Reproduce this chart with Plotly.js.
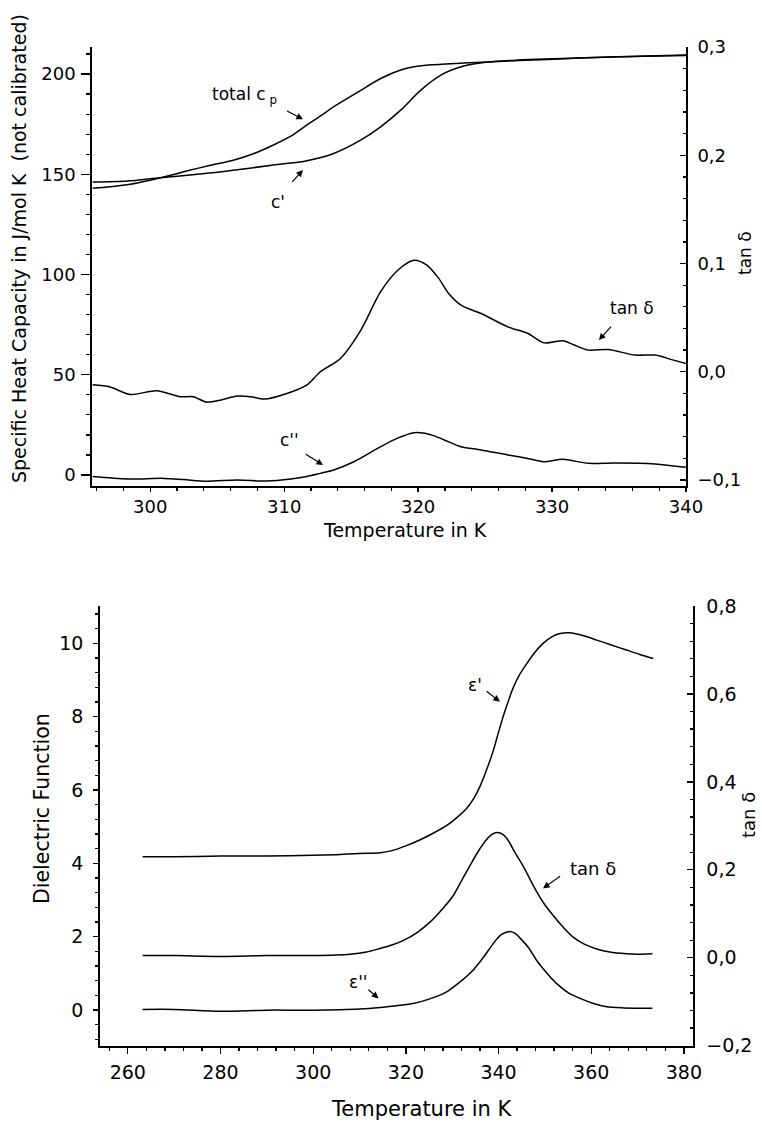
<!DOCTYPE html>
<html>
<head>
<meta charset="utf-8">
<script src="https://cdn.plot.ly/plotly-3.0.1.min.js"></script>
<style>html,body{margin:0;padding:0;background:#fff;}#chart{width:762px;height:1123px;}</style>
</head>
<body>
<div id="chart"></div>
<script>
// ---- Top panel: specific heat capacity (left axis) and tan delta (right axis)
const cpTotalT = [295.7, 297, 298.5, 300, 301, 302.7, 304.5, 306.2, 307.8, 309.2, 310.5, 311.7, 312.8, 313.7, 315.5, 317.2, 318.7, 319.7, 321, 323.4, 325.2, 327.5, 329.7, 332, 334.7, 337, 340];
const cpTotal  = [143, 143.8, 145, 147, 148.6, 151.6, 154.5, 157, 160.5, 164.6, 169, 174.6, 179.5, 183.7, 191, 197.8, 202, 203.6, 204.6, 205.5, 206, 206.8, 207.3, 208, 208.6, 209, 209.5];

const cPrimeT = [295.7, 298.3, 300.75, 303.7, 306.2, 309.2, 311.7, 313.7, 315.7, 317.2, 318.7, 320.2, 321.7, 323.4, 325.2, 327.5, 330, 333, 336, 340];
const cPrime  = [146.1, 146.6, 148.3, 150.1, 152, 154.6, 156.8, 160.4, 167, 173.7, 182, 192, 199.5, 204, 206, 207, 207.6, 208.2, 208.8, 209.3];

const cDPrimeT = [295.7, 298.3, 301, 302.5, 304.2, 306.5, 308.7, 310.5, 311.7, 312.7, 313.7, 315.2, 317.2, 318.5, 319.7, 320.5, 321.2, 322.3, 323.2, 324.7, 326.7, 328, 329.4, 330.8, 332.7, 334.7, 337.7, 340];
const cDPrime  = [-0.8, -2, -1.7, -2.3, -3.1, -2.5, -3, -2, -0.8, 0.8, 2.5, 6.6, 14.1, 18.5, 21.1, 20.8, 19.5, 16.5, 14.1, 12.5, 10, 8.5, 6.6, 7.8, 5.8, 6, 5.5, 3.8];

const tanTopT = [295.7, 297, 298.5, 300.5, 302.2, 303.2, 304.2, 305.3, 306.5, 307.5, 308.5, 310.2, 311.7, 312.7, 314.2, 315.7, 317.2, 318.5, 319.7, 320.6, 321.5, 322.3, 323.2, 324.7, 326.7, 328.2, 329.4, 330.8, 331.6, 332.7, 334.2, 336.2, 337.7, 339, 340];
const tanTop  = [-0.012, -0.014, -0.021, -0.0175, -0.023, -0.023, -0.028, -0.026, -0.0224, -0.023, -0.0252, -0.020, -0.012, 0.000, 0.0123, 0.038, 0.074, 0.094, 0.103, 0.099, 0.087, 0.072, 0.0615, 0.0538, 0.0415, 0.0354, 0.0267, 0.0286, 0.025, 0.020, 0.0206, 0.0154, 0.0154, 0.011, 0.0077];

// ---- Bottom panel: dielectric function (left axis) and tan delta (right axis)
const epsPrimeT = [263.2, 270, 280, 290, 300, 305, 310, 314.5, 317, 320, 323, 326, 329, 331, 333.1, 334.6, 336, 337.5, 338.9, 340, 341.1, 342.2, 343.2, 344.6, 346.1, 347.8, 349.6, 351.5, 353.3, 355.4, 358, 361.2, 364.5, 367.6, 370.5, 373.4];
const epsPrime  = [4.18, 4.18, 4.2, 4.2, 4.22, 4.24, 4.27, 4.29, 4.35, 4.48, 4.64, 4.83, 5.05, 5.25, 5.5, 5.76, 6.1, 6.58, 7.09, 7.58, 8.05, 8.46, 8.8, 9.16, 9.45, 9.75, 10.0, 10.18, 10.27, 10.29, 10.22, 10.09, 9.95, 9.82, 9.7, 9.59];

const epsDPrimeT = [263.2, 270, 280, 290, 300, 310, 314.4, 318, 321.6, 325, 328.8, 331.5, 334.5, 336.8, 338.9, 340.5, 342.1, 343.5, 344.6, 346.5, 348.2, 350.5, 352.5, 355, 357.6, 360.5, 363.3, 367, 373.2];
const epsDPrime  = [0.02, 0.02, -0.03, 0.0, 0.0, 0.03, 0.07, 0.12, 0.18, 0.3, 0.5, 0.75, 1.09, 1.45, 1.82, 2.05, 2.14, 2.1, 1.97, 1.7, 1.36, 1.0, 0.73, 0.48, 0.32, 0.18, 0.09, 0.06, 0.05];

const tanBotT = [263.2, 270, 280, 290, 300, 308, 311.5, 314.4, 317, 319.4, 322.5, 325.2, 328, 330.2, 332, 333.8, 335.5, 337.2, 338.5, 339.7, 341, 342.2, 343.5, 345.5, 347.5, 349.5, 351.8, 354, 356.1, 358.5, 361.2, 364, 367.6, 370, 373.2];
const tanBot  = [0.005, 0.005, 0.003, 0.005, 0.005, 0.008, 0.013, 0.021, 0.029, 0.039, 0.058, 0.081, 0.112, 0.141, 0.175, 0.209, 0.24, 0.266, 0.28, 0.285, 0.28, 0.265, 0.24, 0.205, 0.164, 0.128, 0.096, 0.069, 0.047, 0.031, 0.020, 0.013, 0.009, 0.008, 0.009];

// ---- Text
const xTitle = 'Temperature in K';
const yTopTitle = 'Specific Heat Capacity in J/mol K\u00a0 (not calibrated)';
const yBotTitle = 'Dielectric Function';
const tanTitle = 'tan \u03b4';

const FONT = 'DejaVu Sans, Liberation Sans, Arial, sans-serif';
const line = {color: '#000', width: 1.5, shape: 'spline', smoothing: 0.8};

const traces = [
  {x: cpTotalT, y: cpTotal, xaxis: 'x', yaxis: 'y', name: 'total cp'},
  {x: cPrimeT, y: cPrime, xaxis: 'x', yaxis: 'y', name: "c'"},
  {x: cDPrimeT, y: cDPrime, xaxis: 'x', yaxis: 'y', name: "c''"},
  {x: tanTopT, y: tanTop, xaxis: 'x', yaxis: 'y2', name: 'tan δ'},
  {x: epsPrimeT, y: epsPrime, xaxis: 'x3', yaxis: 'y3', name: "ε'"},
  {x: epsDPrimeT, y: epsDPrime, xaxis: 'x3', yaxis: 'y3', name: "ε''"},
  {x: tanBotT, y: tanBot, xaxis: 'x3', yaxis: 'y4', name: 'tan δ'}
].map(t => Object.assign({type: 'scatter', mode: 'lines', line: line, hoverinfo: 'skip'}, t));

const W = 762, H = 1123;
const px = v => v / W, py = v => 1 - v / H;

const axBase = {
  showline: true, linecolor: '#000', linewidth: 1.8, showgrid: false, zeroline: false,
  tickcolor: '#000', tickwidth: 1.3, color: '#000', fixedrange: true
};

const topDomX = [px(92), px(686)], topDomY = [py(486), py(47)];
const botDomX = [px(100), px(692.7)], botDomY = [py(1045.7), py(606)];
const topXRange = [295.65, 340], botXRange = [254, 381.9];

const layout = {
  width: W, height: H,
  margin: {l: 0, r: 0, t: 0, b: 0},
  paper_bgcolor: '#fff', plot_bgcolor: '#fff',
  showlegend: false,
  separators: ',.',
  font: {family: FONT, color: '#000', size: 18},
  xaxis: Object.assign({}, axBase, {domain: topDomX, anchor: 'y', range: topXRange, dtick: 10, tick0: 300,
    ticks: 'outside', ticklen: 4, tickfont: {size: 18}, ticklabelstandoff: 0,
    minor: {dtick: 2, tick0: 300, ticklen: 3, ticks: 'outside', tickcolor: '#000'}}),
  xaxis2: Object.assign({}, axBase, {domain: topDomX, anchor: 'y', overlaying: 'x', side: 'top', range: topXRange,
    dtick: 10, tick0: 300, ticks: 'inside', ticklen: 8, showticklabels: false,
    minor: {dtick: 2, tick0: 300, ticklen: 4, ticks: 'inside', tickcolor: '#000'}}),
  yaxis: Object.assign({}, axBase, {domain: topDomY, anchor: 'x', range: [-5.5, 213.5], dtick: 50, tick0: 0,
    ticks: 'outside', ticklen: 9, tickfont: {size: 18}, ticklabelstandoff: 2,
    minor: {dtick: 10, tick0: 0, ticklen: 4, ticks: 'outside', tickcolor: '#000'}}),
  yaxis2: Object.assign({}, axBase, {domain: topDomY, anchor: 'x', overlaying: 'y', side: 'right', range: [-0.1055, 0.3],
    dtick: 0.1, tick0: 0, tickformat: '.1f', ticks: 'inside', ticklen: 6, tickfont: {size: 18}, ticklabelstandoff: 6,
    minor: {dtick: 0.02, tick0: 0, ticklen: 3, ticks: 'inside', tickcolor: '#000'}}),

  xaxis3: Object.assign({}, axBase, {domain: botDomX, anchor: 'y3', range: botXRange, dtick: 20, tick0: 260,
    ticks: 'outside', ticklen: 6, tickfont: {size: 19}, ticklabelstandoff: 3,
    minor: {dtick: 4, tick0: 260, ticklen: 3, ticks: 'outside', tickcolor: '#000'}}),
  xaxis4: Object.assign({}, axBase, {domain: botDomX, anchor: 'y3', overlaying: 'x3', side: 'top', range: botXRange,
    dtick: 20, tick0: 260, ticks: 'inside', ticklen: 7, showticklabels: false,
    minor: {dtick: 4, tick0: 260, ticklen: 4, ticks: 'inside', tickcolor: '#000'}}),
  yaxis3: Object.assign({}, axBase, {domain: botDomY, anchor: 'x3', range: [-0.97, 11.02], dtick: 2, tick0: 0,
    ticks: 'outside', ticklen: 5, tickfont: {size: 19}, ticklabelstandoff: 6,
    minor: {dtick: 0.4, tick0: 0, ticklen: 3, ticks: 'outside', tickcolor: '#000'}}),
  yaxis4: Object.assign({}, axBase, {domain: botDomY, anchor: 'x3', overlaying: 'y3', side: 'right', range: [-0.2, 0.8],
    dtick: 0.2, tick0: 0, tickformat: '.1f', ticks: 'inside', ticklen: 6, tickfont: {size: 19}, ticklabelstandoff: 8,
    minor: {dtick: 0.04, tick0: 0, ticklen: 3, ticks: 'inside', tickcolor: '#000'}}),

  annotations: []
};

const A = layout.annotations;
function title(x, y, text, size, angle) {
  A.push({xref: 'paper', yref: 'paper', x: px(x), y: py(y), xanchor: 'center', yanchor: 'middle',
    text: text, textangle: angle || 0, showarrow: false, font: {size: size}});
}
// axis titles
title(405, 530, xTitle, 19);
title(19, 249, yTopTitle, 19, -90);
title(745, 253, tanTitle, 17, -90);
title(421.7, 1109, xTitle, 21);
title(42, 809, yBotTitle, 20.5, -90);
title(748, 815, tanTitle, 18, -90);

// curve labels
function label(xr, yr, x, y, text, size) {
  A.push({xref: xr, yref: yr, x: x, y: y, xanchor: 'center', yanchor: 'middle', text: text, showarrow: false, font: {size: size}});
}
function arrow(xr, yr, x0, y0, x1, y1) {
  A.push({xref: xr, yref: yr, axref: xr, ayref: yr, x: x1, y: y1, ax: x0, ay: y0, text: '',
    showarrow: true, arrowhead: 2, arrowsize: 1.1, arrowwidth: 1.2, arrowcolor: '#000', standoff: 0, startstandoff: 0});
}
label('x', 'y', 307.0, 189.5, 'total c<sub> p</sub>', 17);
arrow('x', 'y', 310.1, 182, 311.4, 177.4);
label('x', 'y', 309.5, 136.3, "c'", 17);
arrow('x', 'y', 310.5, 145.5, 311.4, 152.1);
label('x', 'y', 336.0, 83.3, tanTitle, 17);
arrow('x', 'y', 334.5, 74.8, 333.5, 67.3);
label('x', 'y', 310.4, 17.5, "c''", 17);
arrow('x', 'y', 311.5, 10.8, 312.9, 5.0);

label('x3', 'y3', 334.9, 8.86, "\u03b5'", 17);
arrow('x3', 'y3', 337.1, 8.73, 340.3, 8.41);
label('x3', 'y3', 360.4, 3.86, tanTitle, 18);
arrow('x3', 'y3', 353.6, 3.68, 349.6, 3.32);
label('x3', 'y3', 309.7, 0.77, "\u03b5''", 17);
arrow('x3', 'y3', 311.6, 0.59, 314.1, 0.32);

Plotly.newPlot('chart', traces, layout, {displayModeBar: false, staticPlot: true});
</script>
</body>
</html>
